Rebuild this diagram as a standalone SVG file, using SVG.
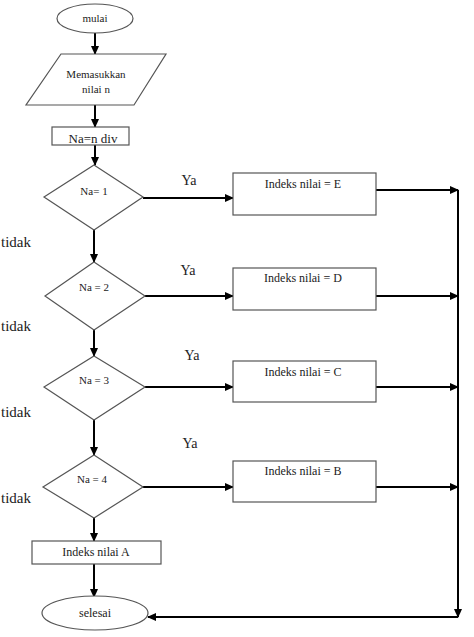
<svg xmlns="http://www.w3.org/2000/svg" width="474" height="637" viewBox="0 0 474 637">
<style>
.s{fill:#fff;stroke:#555;stroke-width:1.2}
.t{font-family:"Liberation Serif","DejaVu Serif",serif;fill:#222;text-anchor:middle}
.c{stroke:#000;stroke-width:2;fill:none}
.a{marker-end:url(#ah)}
</style>
<defs>
<marker id="ah" markerWidth="9" markerHeight="8" refX="8" refY="4" orient="auto" markerUnits="userSpaceOnUse">
<path d="M0,0 L9,4 L0,8 Z" fill="#000"/>
</marker>
</defs>
<rect width="474" height="637" fill="#fff"/>
<g id="connectors">
<line class="c a" x1="95" y1="33" x2="95" y2="54"/>
<line class="c a" x1="95" y1="105" x2="95" y2="127"/>
<line class="c a" x1="95" y1="145" x2="95" y2="165"/>
<line class="c a" x1="94" y1="230" x2="94" y2="262"/>
<line class="c a" x1="94" y1="330" x2="94" y2="356"/>
<line class="c a" x1="94" y1="420" x2="94" y2="455"/>
<line class="c a" x1="94" y1="518" x2="94" y2="541"/>
<line class="c a" x1="94" y1="564" x2="94" y2="597"/>
<line class="c a" x1="143" y1="198" x2="233" y2="198"/>
<line class="c a" x1="145" y1="296" x2="233" y2="296"/>
<line class="c a" x1="145" y1="387" x2="233" y2="387"/>
<line class="c a" x1="143" y1="487" x2="233" y2="487"/>
<line class="c a" x1="376" y1="190" x2="458" y2="190"/>
<line class="c a" x1="376" y1="296" x2="458" y2="296"/>
<line class="c a" x1="376" y1="387" x2="458" y2="387"/>
<line class="c a" x1="376" y1="487" x2="458" y2="487"/>
<line class="c a" x1="458" y1="190" x2="458" y2="617"/>
<line class="c a" x1="458" y1="617" x2="148" y2="617"/>
<text class="t" x="189" y="185" font-size="14">Ya</text>
<text class="t" x="188" y="275" font-size="14">Ya</text>
<text class="t" x="192" y="360" font-size="14">Ya</text>
<text class="t" x="190" y="448" font-size="14">Ya</text>
<text class="t" x="16" y="247" font-size="15">tidak</text>
<text class="t" x="16" y="331" font-size="15">tidak</text>
<text class="t" x="16" y="417" font-size="15">tidak</text>
<text class="t" x="16" y="503" font-size="15">tidak</text>
</g>
<g id="mulai">
<ellipse class="s" cx="95" cy="18.5" rx="38" ry="14.5"/>
<text class="t" x="95" y="22" font-size="11">mulai</text>
</g>
<g id="input">
<polygon class="s" points="61,54 166,54 134,105 26,105"/>
<text class="t" x="96" y="78" font-size="11">Memasukkan</text>
<text class="t" x="96" y="93" font-size="11">nilai n</text>
</g>
<g id="proses">
<rect class="s" x="52" y="127" width="77" height="18"/>
<text class="t" x="93" y="143" font-size="13">Na=n div</text>
</g>
<g id="d1">
<polygon class="s" points="94,165 143,197 94,230 44,197"/>
<text class="t" x="94" y="195" font-size="11">Na= 1</text>
</g>
<g id="d2">
<polygon class="s" points="94,262 145,296 94,330 45,296"/>
<text class="t" x="94" y="291" font-size="11">Na = 2</text>
</g>
<g id="d3">
<polygon class="s" points="94,356 145,387 94,420 44,387"/>
<text class="t" x="94" y="384" font-size="11">Na = 3</text>
</g>
<g id="d4">
<polygon class="s" points="94,455 143,487 94,518 43,487"/>
<text class="t" x="92" y="483" font-size="11">Na = 4</text>
</g>
<g id="boxE">
<rect class="s" x="233" y="173" width="143" height="42"/>
<text class="t" x="303" y="188" font-size="12">Indeks nilai = E</text>
</g>
<g id="boxD">
<rect class="s" x="233" y="268" width="143" height="42"/>
<text class="t" x="303" y="282" font-size="12">Indeks nilai = D</text>
</g>
<g id="boxC">
<rect class="s" x="233" y="361" width="143" height="41"/>
<text class="t" x="303" y="376" font-size="12">Indeks nilai = C</text>
</g>
<g id="boxB">
<rect class="s" x="233" y="461" width="143" height="41"/>
<text class="t" x="303" y="475" font-size="12">Indeks nilai = B</text>
</g>
<g id="boxA">
<rect class="s" x="32" y="541" width="129" height="23"/>
<text class="t" x="96" y="556" font-size="12">Indeks nilai A</text>
</g>
<g id="selesai">
<ellipse class="s" cx="95" cy="613" rx="53" ry="17"/>
<text class="t" x="95" y="617" font-size="12">selesai</text>
</g>
</svg>
